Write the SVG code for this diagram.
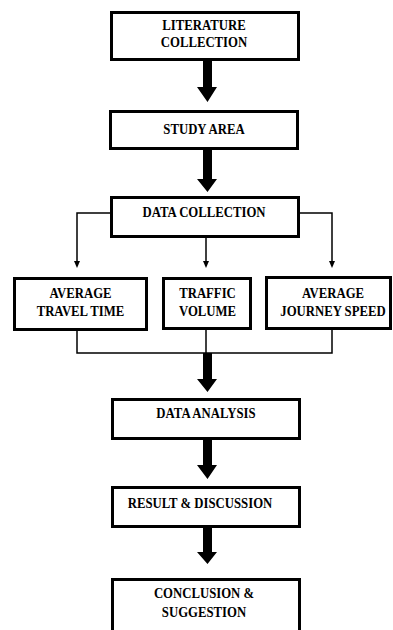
<svg xmlns="http://www.w3.org/2000/svg" width="393" height="630" viewBox="0 0 393 630">
<style>
.box{fill:#fff;stroke:#000;stroke-width:3}
.t{font-family:"Liberation Serif","Times New Roman",serif;font-weight:bold;font-size:14.5px;text-anchor:middle;fill:#000}
.thin{fill:none;stroke:#000;stroke-width:1.5}
.thick{fill:#000}
</style>
<defs>
<path id="ah" d="M-3,-7 L3,-7 L0,0 Z" fill="#000"/>
</defs>
<rect width="393" height="630" fill="#fff"/>
<g id="connectors">
<path class="thin" d="M110,213 H77 V262"/>
<use href="#ah" x="77" y="268"/>
<path class="thin" d="M206,238 V262"/>
<use href="#ah" x="206" y="268"/>
<path class="thin" d="M300,213 H332 V262"/>
<use href="#ah" x="332" y="268"/>
<path class="thin" d="M77,331 V353 H332 V330"/>
<path class="thin" d="M206,330 V353"/>
<polygon class="thick" points="203,61 212,61 212,87 217,87 207.5,102 197,87 203,87"/>
<polygon class="thick" points="203,150 212,150 212,179 217,179 207.5,192 197,179 203,179"/>
<polygon class="thick" points="203,353 212,353 212,379 217,379 207.5,392 197,379 203,379"/>
<polygon class="thick" points="203,440 212,440 212,465 217,465 207.5,479 197,465 203,465"/>
<polygon class="thick" points="203,528 212,528 212,552 217,552 207.5,564 197,552 203,552"/>
</g>
<g id="literature">
<rect class="box" x="111.5" y="12.5" width="187" height="47"/>
<text class="t" transform="matrix(0.88 0 0 1 204 30)">LITERATURE</text>
<text class="t" transform="matrix(0.88 0 0 1 204 47)">COLLECTION</text>
</g>
<g id="study">
<rect class="box" x="110.5" y="111.5" width="187" height="37"/>
<text class="t" transform="matrix(0.88 0 0 1 204 134)">STUDY AREA</text>
</g>
<g id="datacollection">
<rect class="box" x="111.5" y="197.5" width="187" height="39"/>
<text class="t" transform="matrix(0.88 0 0 1 204 217)">DATA COLLECTION</text>
</g>
<g id="traveltime">
<rect class="box" x="14.5" y="278.5" width="132" height="51"/>
<text class="t" transform="matrix(0.88 0 0 1 80.5 298)">AVERAGE</text>
<text class="t" transform="matrix(0.88 0 0 1 80.5 316)">TRAVEL TIME</text>
</g>
<g id="traffic">
<rect class="box" x="163.5" y="278.5" width="87" height="50"/>
<text class="t" transform="matrix(0.88 0 0 1 207.5 298)">TRAFFIC</text>
<text class="t" transform="matrix(0.88 0 0 1 207.5 316)">VOLUME</text>
</g>
<g id="journeyspeed">
<rect class="box" x="266.5" y="277.5" width="124" height="51"/>
<text class="t" transform="matrix(0.88 0 0 1 333 298)">AVERAGE</text>
<text class="t" transform="matrix(0.88 0 0 1 333 316)">JOURNEY SPEED</text>
</g>
<g id="analysis">
<rect class="box" x="112.5" y="399.5" width="187" height="39"/>
<text class="t" transform="matrix(0.88 0 0 1 206 418)">DATA ANALYSIS</text>
</g>
<g id="result">
<rect class="box" x="112.5" y="487.5" width="187" height="39"/>
<text class="t" transform="matrix(0.88 0 0 1 200 508)">RESULT &amp; DISCUSSION</text>
</g>
<g id="conclusion">
<rect class="box" x="112.5" y="579.5" width="187" height="62"/>
<text class="t" transform="matrix(0.88 0 0 1 204 598)">CONCLUSION &amp;</text>
<text class="t" transform="matrix(0.88 0 0 1 204 617)">SUGGESTION</text>
</g>
</svg>
